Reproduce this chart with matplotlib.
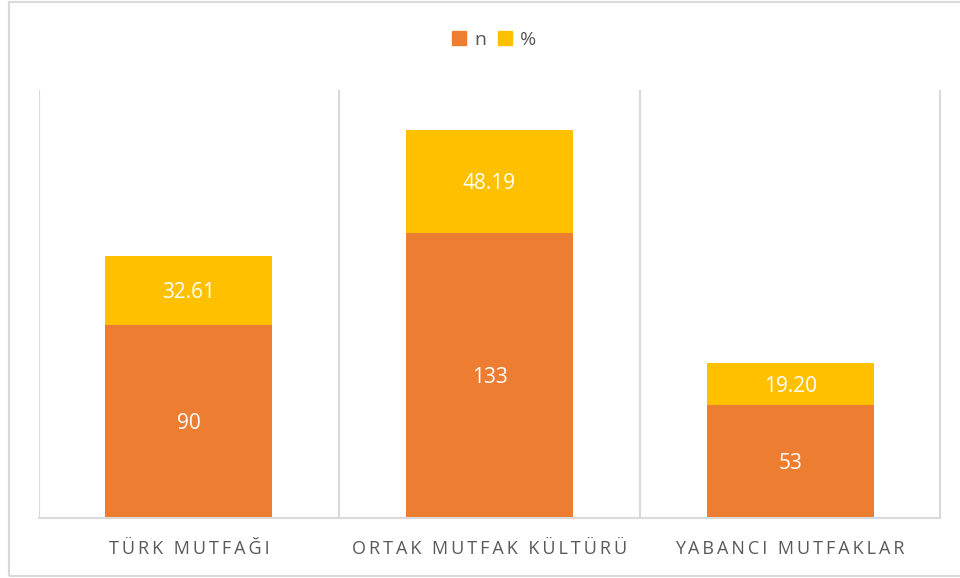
import matplotlib.pyplot as plt
from matplotlib.patches import Rectangle, Patch

categories = ['TÜRK MUTFAĞI', 'ORTAK MUTFAK KÜLTÜRÜ', 'YABANCI MUTFAKLAR']
n_values = [90, 133, 53]
pct_values = [32.61, 48.19, 19.20]

ORANGE = '#ED7D31'
YELLOW = '#FFC000'
GRID = '#D9D9D9'

plt.rcParams['font.family'] = ['Open Sans', 'DejaVu Sans']

fig = plt.figure(figsize=(9.6, 5.78), dpi=100)
ax = fig.add_axes([38.5 / 960, 1 - 518 / 578, 902 / 960, 428 / 578])

x = list(range(len(categories)))
width = 0.556
ax.bar(x, n_values, width, color=ORANGE, label='n', zorder=2)
ax.bar(x, pct_values, width, bottom=n_values, color=YELLOW, label='%', zorder=2)

for i in x:
    ax.text(i, n_values[i] / 2 - 1, f'{n_values[i]}', ha='center', va='center',
            color='white', fontsize=15, zorder=3)
    ax.text(i, n_values[i] + pct_values[i] / 2 - 1, f'{pct_values[i]:.2f}', ha='center',
            va='center', color='white', fontsize=15, zorder=3)

ax.set_xlim(-0.5, 2.5)
ax.set_ylim(0, 200)
for b in [-0.5, 0.5, 1.5, 2.5]:
    ax.axvline(b, color=GRID, lw=1.5, zorder=1)
ax.set_yticks([])
ax.set_xticks([])
for s in ['top', 'left', 'right']:
    ax.spines[s].set_visible(False)
ax.spines['bottom'].set_color(GRID)
ax.spines['bottom'].set_linewidth(1.5)

# spaced-out category labels, like Excel's character spacing
for i, c in enumerate(categories):
    spaced = '\u2009'.join(c)
    ax.text(i, -14.5, spaced, ha='center', va='center', fontsize=13, color='#595959')

fig.legend(handles=[Patch(color=ORANGE, label='n'), Patch(color=YELLOW, label='%')],
           loc='center', bbox_to_anchor=(494 / 960, 1 - 40 / 578), ncol=2, frameon=False,
           fontsize=14, handlelength=0.75, handleheight=0.75, handletextpad=0.4,
           columnspacing=0.6, labelcolor='#595959')

fig.patches.append(Rectangle((9 / 960, 2 / 578), 1.0, 1 - 4 / 578, transform=fig.transFigure,
                             fill=False, edgecolor=GRID, lw=1.5))

fig.savefig('out.png', dpi=100)
